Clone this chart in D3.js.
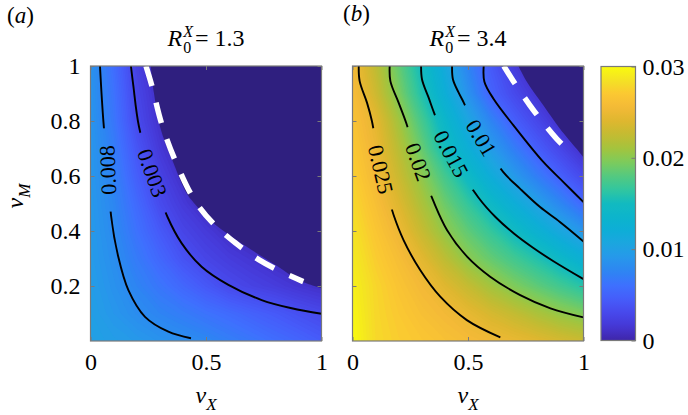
<!DOCTYPE html>
<html>
<head>
<meta charset="utf-8">
<script src="https://cdn.jsdelivr.net/npm/d3@7"></script>
<style>
  body { margin: 0; background: #fff; }
  svg { display: block; }
</style>
</head>
<body>
<div id="chart"></div>
<script>
// grid positions (rows run from vM = 1 at the top down to vM = 0)
const vX = [0, 0.1, 0.2, 0.3, 0.4, 0.5, 0.6, 0.7, 0.8, 0.9, 1];
const vM = [1, 0.9, 0.8, 0.7, 0.6, 0.5, 0.4, 0.3, 0.2, 0.1, 0];

// panel (a), R0X = 1.3
const gridA = [
  [0.0087, 0.0058, 0.0024, 0, 0, 0, 0, 0, 0, 0, 0],
  [0.0088, 0.0062, 0.0028, 0.0008, 0, 0, 0, 0, 0, 0, 0],
  [0.0089, 0.0065, 0.0032, 0.0011, 0, 0, 0, 0, 0, 0, 0],
  [0.0090, 0.0070, 0.0040, 0.0017, 0, 0, 0, 0, 0, 0, 0],
  [0.0091, 0.0074, 0.0047, 0.0025, 0.0009, 0, 0, 0, 0, 0, 0],
  [0.0092, 0.0077, 0.0055, 0.0032, 0.0018, 0.0004, 0, 0, 0, 0, 0],
  [0.0093, 0.0080, 0.0061, 0.0043, 0.0027, 0.0018, 0.0008, 0, 0, 0, 0],
  [0.0094, 0.0083, 0.0068, 0.0053, 0.0038, 0.0027, 0.0020, 0.0014, 0.0007, 0.0001, 0],
  [0.0096, 0.0086, 0.0075, 0.0064, 0.0053, 0.0042, 0.0031, 0.0025, 0.0020, 0.0014, 0.0009],
  [0.0098, 0.0090, 0.0082, 0.0075, 0.0069, 0.0062, 0.0056, 0.0049, 0.0043, 0.0036, 0.0030],
  [0.0100, 0.0096, 0.0092, 0.0087, 0.0083, 0.0078, 0.0071, 0.0065, 0.0058, 0.0052, 0.0045]
];

// panel (b), R0X = 3.4
const gridB = [
  [0.0255, 0.0223, 0.0186, 0.0149, 0.0112, 0.0075, 0.0043, 0.0019, 0, 0, 0],
  [0.0260, 0.0231, 0.0195, 0.0158, 0.0122, 0.0086, 0.0050, 0.0031, 0.0013, 0, 0],
  [0.0265, 0.0245, 0.0210, 0.0174, 0.0139, 0.0106, 0.0075, 0.0047, 0.0029, 0.0010, 0],
  [0.0270, 0.0250, 0.0220, 0.0187, 0.0151, 0.0123, 0.0095, 0.0070, 0.0046, 0.0028, 0.0009],
  [0.0275, 0.0255, 0.0229, 0.0202, 0.0173, 0.0145, 0.0118, 0.0093, 0.0070, 0.0048, 0.0030],
  [0.0280, 0.0262, 0.0240, 0.0214, 0.0189, 0.0166, 0.0143, 0.0121, 0.0099, 0.0077, 0.0054],
  [0.0285, 0.0268, 0.0251, 0.0227, 0.0203, 0.0184, 0.0166, 0.0147, 0.0128, 0.0108, 0.0089],
  [0.0290, 0.0273, 0.0260, 0.0243, 0.0222, 0.0201, 0.0186, 0.0172, 0.0158, 0.0142, 0.0124],
  [0.0294, 0.0278, 0.0266, 0.0255, 0.0241, 0.0226, 0.0210, 0.0196, 0.0184, 0.0172, 0.0160],
  [0.0297, 0.0279, 0.0270, 0.0262, 0.0255, 0.0246, 0.0235, 0.0225, 0.0214, 0.0204, 0.0196],
  [0.0300, 0.0280, 0.0273, 0.0268, 0.0263, 0.0258, 0.0253, 0.0248, 0.0242, 0.0235, 0.0229]
];

// contour lines [vX, vM]
const contA008 = [[0.041, 1.0], [0.056, 0.797], [0.076, 0.622], [0.089, 0.456], [0.120, 0.307], [0.164, 0.185], [0.236, 0.088], [0.337, 0.034], [0.435, 0.010]];
const contA003 = [[0.175, 1.0], [0.185, 0.931], [0.210, 0.779], [0.266, 0.611], [0.334, 0.45], [0.395, 0.355], [0.481, 0.27], [0.597, 0.204], [0.741, 0.149], [0.871, 0.119], [1.0, 0.099]];
const contB025 = [[0.027, 1.0], [0.031, 0.945], [0.063, 0.866], [0.084, 0.8], [0.121, 0.624], [0.178, 0.458], [0.221, 0.367], [0.293, 0.258], [0.380, 0.161], [0.495, 0.076], [0.640, 0.013]];
const contB020 = [[0.161, 1.0], [0.164, 0.945], [0.200, 0.866], [0.233, 0.792], [0.284, 0.651], [0.348, 0.513], [0.409, 0.404], [0.496, 0.307], [0.596, 0.234], [0.726, 0.167], [0.857, 0.119], [1.0, 0.086]];
const contB015 = [[0.297, 1.0], [0.301, 0.951], [0.330, 0.884], [0.354, 0.828], [0.426, 0.68], [0.545, 0.522], [0.62, 0.45], [0.70, 0.39], [0.78, 0.34], [0.87, 0.29], [1.0, 0.225]];
const contB010 = [[0.431, 1.0], [0.435, 0.951], [0.459, 0.904], [0.481, 0.868], [0.556, 0.738], [0.652, 0.615], [0.725, 0.554], [0.812, 0.487], [0.898, 0.433], [1.0, 0.362]];
const contB005 = [[0.568, 1.0], [0.571, 0.943], [0.611, 0.880], [0.697, 0.784], [0.826, 0.651], [0.913, 0.578], [1.0, 0.505]];

// inline contour labels
const labelsA = [
  { text: "0.008", vx: 0.076, vm: 0.622, rot: -92 },
  { text: "0.003", vx: 0.266, vm: 0.611, rot: 70 }
];
const labelsB = [
  { text: "0.025", vx: 0.121, vm: 0.624, rot: 77 },
  { text: "0.02", vx: 0.284, vm: 0.651, rot: 70 },
  { text: "0.015", vx: 0.426, vm: 0.68, rot: 62 },
  { text: "0.01", vx: 0.556, vm: 0.738, rot: 59 }
];

// edge of the zero region and the white dashed threshold curve
const edgeA = [[0.261, 1.0], [0.275, 0.9], [0.301, 0.779], [0.354, 0.658], [0.416, 0.537], [0.445, 0.505], [0.517, 0.44], [0.611, 0.379], [0.698, 0.331], [0.813, 0.27], [0.9, 0.222], [1.0, 0.192]];
const dashA = [[0.240, 1.0], [0.265, 0.93], [0.308, 0.79], [0.366, 0.658], [0.452, 0.51], [0.54, 0.42], [0.63, 0.355], [0.73, 0.295], [0.83, 0.25], [0.921, 0.216]];
const edgeB = [[0.718, 1.0], [0.754, 0.944], [0.826, 0.857], [0.898, 0.772], [0.970, 0.699], [1.0, 0.668]];
const dashB = [[0.655, 1.0], [0.703, 0.936], [0.768, 0.857], [0.812, 0.808], [0.884, 0.735], [0.942, 0.687]];

const xTicks = [0, 0.5, 1];
const yTicks = [0.2, 0.4, 0.6, 0.8, 1];
const cbTicks = [0, 0.01, 0.02, 0.03];

// parula-like colour map
const parulaStops = ["#3e26a8", "#4536d4", "#4748eb", "#465cfa", "#3e70fe", "#2e84f3", "#2797eb", "#1da5e0",
  "#0eadd7", "#0cb4cc", "#12bac0", "#31c69f", "#54c980", "#7ccb5c", "#a3c43e", "#c3bb32",
  "#deb72f", "#f3b937", "#fbc832", "#f4e224", "#f9fb0e"];
const zeroColor = "#2f1f7f";
const frameColor = "#7a7a7a";
const FONT = "'Liberation Serif', serif";

const W = 688, H = 415;
const PW = 231, TOP = 66, BOT = 341;
const step = 0.00025;
const levels = d3.range(0, 0.0301, step);

const parula = d3.scaleLinear()
  .domain(parulaStops.map((c, i) => 0.03 * i / (parulaStops.length - 1)))
  .range(parulaStops)
  .clamp(true);

const svg = d3.select("#chart").append("svg")
  .attr("width", W).attr("height", H)
  .attr("font-family", FONT);
const defs = svg.append("defs");
const y = d3.scaleLinear([0, 1], [BOT, TOP]);

function drawPanel(p) {
  const x = d3.scaleLinear([0, 1], [p.left, p.left + PW]);
  const g = svg.append("g");
  const clipId = "clip-" + p.id;
  defs.append("clipPath").attr("id", clipId)
    .append("rect").attr("x", p.left).attr("y", TOP).attr("width", PW).attr("height", BOT - TOP);

  // heat map: many filled contour bands from the grid
  const n = vX.length, m = vM.length;
  const gx = d3.scaleLinear([0.5, n - 0.5], [vX[0], vX[n - 1]]);
  const gy = d3.scaleLinear([0.5, m - 0.5], [vM[0], vM[m - 1]]);
  const proj = d3.geoTransform({
    point(px, py) { this.stream.point(x(gx(px)), y(gy(py))); }
  });
  const bands = d3.contours().size([n, m]).thresholds(levels)(p.grid.flat());
  const heat = g.append("g").attr("clip-path", `url(#${clipId})`);
  heat.selectAll("path.band").data(bands).join("path")
    .attr("class", "band")
    .attr("d", d3.geoPath(proj))
    .attr("fill", d => parula(d.value + step / 2));

  const line = d3.line().x(d => x(d[0])).y(d => y(d[1])).curve(d3.curveCatmullRom);

  // zero region
  heat.append("path")
    .attr("d", line(p.edge) + `L${x(1) + 2},${y(1) - 2}Z`)
    .attr("fill", zeroColor);

  const maskId = "mask-" + p.id;
  const mask = defs.append("mask").attr("id", maskId).attr("maskUnits", "userSpaceOnUse")
    .attr("x", 0).attr("y", 0).attr("width", W).attr("height", H);
  mask.append("rect").attr("width", W).attr("height", H).attr("fill", "white");

  const lines = g.append("g").attr("clip-path", `url(#${clipId})`)
    .append("g").attr("mask", `url(#${maskId})`);
  lines.selectAll("path").data(p.contours).join("path")
    .attr("d", line)
    .attr("fill", "none")
    .attr("stroke", "#000")
    .attr("stroke-width", 1.9);

  // inline labels, each cuts a gap out of its line
  p.labels.forEach(l => {
    const tr = `translate(${x(l.vx)},${y(l.vm)}) rotate(${l.rot})`;
    const t = g.append("text")
      .attr("transform", tr)
      .attr("text-anchor", "middle")
      .attr("dy", "0.33em")
      .attr("font-size", 22)
      .text(l.text);
    const w = t.node().getComputedTextLength() + 34;
    mask.append("rect").attr("transform", tr)
      .attr("x", -w / 2).attr("y", -10).attr("width", w).attr("height", 20)
      .attr("fill", "black");
  });

  // dashed threshold curve
  g.append("path").attr("clip-path", `url(#${clipId})`)
    .attr("d", line(p.dash))
    .attr("fill", "none")
    .attr("stroke", "#fff")
    .attr("stroke-width", 5.5)
    .attr("stroke-dasharray", "21,17");

  // frame and ticks
  g.append("rect").attr("x", p.left).attr("y", TOP).attr("width", PW).attr("height", BOT - TOP)
    .attr("fill", "none").attr("stroke", frameColor).attr("stroke-width", 1.2);

  const fmt = d3.format("");
  const styleAxis = a => {
    a.select(".domain").remove();
    a.selectAll("line").attr("stroke", frameColor);
    a.attr("font-family", FONT).attr("font-size", 24);
    a.selectAll("text").attr("fill", "#000");
  };
  g.append("g").attr("transform", `translate(0,${BOT})`)
    .call(d3.axisBottom(x).tickValues(xTicks).tickFormat(fmt).tickSize(-4).tickPadding(12))
    .call(styleAxis);
  g.append("g").attr("transform", `translate(0,${TOP})`)
    .call(d3.axisTop(x).tickValues(xTicks).tickFormat("").tickSize(-4))
    .call(styleAxis);
  g.append("g").attr("transform", `translate(${p.left},0)`)
    .call(d3.axisLeft(y).tickValues(yTicks).tickFormat(p.yLabels ? fmt : "").tickSize(-4).tickPadding(10))
    .call(styleAxis);
  g.append("g").attr("transform", `translate(${p.left + PW},0)`)
    .call(d3.axisRight(y).tickValues(yTicks).tickFormat("").tickSize(-4))
    .call(styleAxis);

  // title R_0^X = value
  const tg = g.append("g");
  const r = tg.append("text").attr("font-size", 24).attr("font-style", "italic").text("R");
  const rw = r.node().getComputedTextLength() + 1;
  const sup = tg.append("text").attr("x", rw).attr("y", -9).attr("font-size", 16).attr("font-style", "italic").text("X");
  const sub = tg.append("text").attr("x", rw).attr("y", 7).attr("font-size", 16).text("0");
  const sw = Math.max(sup.node().getComputedTextLength(), sub.node().getComputedTextLength());
  const rest = tg.append("text").attr("x", rw + sw + 2).attr("font-size", 24).text("= " + p.r0);
  const total = rw + sw + 2 + rest.node().getComputedTextLength();
  tg.attr("transform", `translate(${x(0.5) - total / 2},46)`);

  // x label
  const xl = g.append("text").attr("x", x(0.5)).attr("y", 403).attr("text-anchor", "middle").attr("font-size", 24);
  xl.append("tspan").attr("font-style", "italic").text("v");
  xl.append("tspan").attr("font-style", "italic").attr("font-size", 17).attr("dy", 7).text("X");

  // panel tag
  const tag = g.append("text").attr("x", p.tagX).attr("y", p.tagY).attr("font-size", 23);
  tag.append("tspan").text("(");
  tag.append("tspan").attr("font-style", "italic").text(p.tag);
  tag.append("tspan").text(")");
}

drawPanel({
  id: "a", left: 90.5, grid: gridA, contours: [contA008, contA003], labels: labelsA,
  edge: edgeA, dash: dashA, r0: "1.3", tag: "a", tagX: 7, tagY: 23, yLabels: true
});
drawPanel({
  id: "b", left: 352.5, grid: gridB, contours: [contB025, contB020, contB015, contB010, contB005], labels: labelsB,
  edge: edgeB, dash: dashB, r0: "3.4", tag: "b", tagX: 343, tagY: 21, yLabels: false
});

// y label
const yl = svg.append("text").attr("transform", "translate(23,196) rotate(-90)")
  .attr("text-anchor", "middle").attr("font-size", 24);
yl.append("tspan").attr("font-style", "italic").text("v");
yl.append("tspan").attr("font-style", "italic").attr("font-size", 17).attr("dy", 7).text("M");

// colour bar
const cbLeft = 601, cbW = 34.5;
const cb = d3.scaleLinear([0, 0.03], [340.5, 66.5]);
const grad = defs.append("linearGradient").attr("id", "cbgrad")
  .attr("x1", 0).attr("y1", 1).attr("x2", 0).attr("y2", 0);
grad.selectAll("stop").data(d3.range(0, 1.0001, 0.02)).join("stop")
  .attr("offset", d => d)
  .attr("stop-color", d => parula(d * 0.03));
svg.append("rect").attr("x", cbLeft).attr("y", cb(0.03)).attr("width", cbW).attr("height", cb(0) - cb(0.03))
  .attr("fill", "url(#cbgrad)").attr("stroke", frameColor).attr("stroke-width", 1.2);
const cbAxis = svg.append("g").attr("transform", `translate(${cbLeft + cbW},0)`)
  .call(d3.axisRight(cb).tickValues(cbTicks).tickFormat(d3.format("")).tickSize(-4).tickPadding(7));
cbAxis.select(".domain").remove();
cbAxis.selectAll("line").attr("stroke", frameColor);
cbAxis.attr("font-family", FONT).attr("font-size", 24);
cbAxis.selectAll("text").attr("fill", "#000");
</script>
</body>
</html>
